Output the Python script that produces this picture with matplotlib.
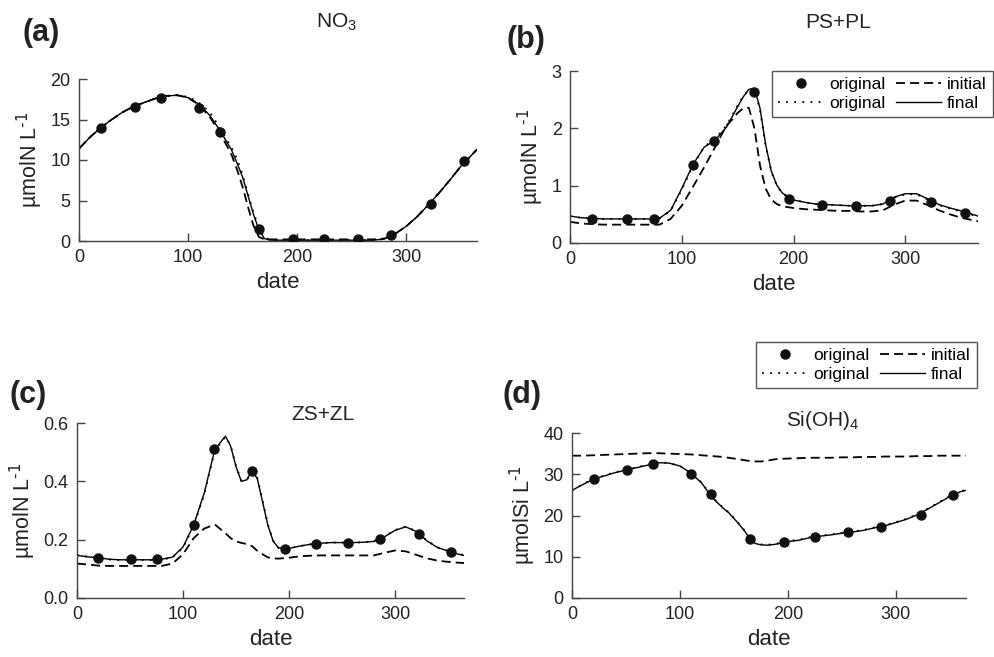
import matplotlib
matplotlib.use("Agg")
import matplotlib.pyplot as plt

plt.rcParams["font.family"] = ["Liberation Sans", "DejaVu Sans"]
plt.rcParams["mathtext.default"] = "regular"

# sampling dates (day of year)
obs_days = [20, 51, 75, 110, 129, 165, 196, 225, 256, 286, 323, 353]
model_days = [0, 10, 20, 30, 40, 50, 60, 70, 80, 90, 100, 110, 120, 130, 140,
              145, 150, 155, 160, 165, 170, 175, 180, 185, 190, 200, 210, 220,
              230, 240, 250, 260, 270, 280, 290, 300, 310, 320, 330, 340, 350,
              360, 365]

# (a) NO3
no3_obs = [14.0, 16.6, 17.7, 16.4, 13.5, 1.5, 0.2, 0.2, 0.2, 0.7, 4.6, 9.9]
no3_final = [11.4, 12.8, 14.0, 15.0, 15.9, 16.6, 17.1, 17.6, 17.9, 18.0, 17.7,
             16.9, 15.5, 13.5, 11.2, 9.6, 7.9, 5.6, 3.3, 1.4, 0.3, 0.12, 0.1,
             0.1, 0.1, 0.1, 0.1, 0.1, 0.1, 0.1, 0.1, 0.1, 0.1, 0.25, 0.9, 1.8,
             3.0, 4.4, 5.9, 7.5, 9.2, 10.6, 11.3]
no3_orig = [11.4, 12.8, 14.0, 15.0, 15.9, 16.6, 17.1, 17.6, 17.9, 18.0, 17.8,
            17.1, 15.9, 13.8, 11.5, 10.1, 8.2, 5.8, 3.5, 1.6, 0.5, 0.15, 0.1,
            0.1, 0.1, 0.1, 0.1, 0.1, 0.1, 0.1, 0.1, 0.1, 0.1, 0.25, 0.9, 1.8,
            3.0, 4.4, 5.9, 7.5, 9.2, 10.6, 11.3]
no3_initial = [11.4, 12.8, 14.0, 15.0, 15.9, 16.6, 17.1, 17.6, 17.9, 18.0,
               17.7, 16.8, 15.3, 13.2, 10.6, 8.8, 6.7, 4.2, 1.9, 0.5, 0.2, 0.2,
               0.2, 0.2, 0.2, 0.2, 0.2, 0.2, 0.2, 0.2, 0.2, 0.2, 0.2, 0.3, 0.9,
               1.8, 3.0, 4.4, 5.9, 7.5, 9.2, 10.6, 11.3]

# (b) PS+PL
ph_obs = [0.42, 0.42, 0.42, 1.36, 1.78, 2.64, 0.76, 0.67, 0.65, 0.74, 0.72, 0.53]
ph_final = [0.47, 0.44, 0.43, 0.42, 0.42, 0.42, 0.42, 0.42, 0.43, 0.57, 0.95,
            1.37, 1.67, 1.80, 2.02, 2.20, 2.38, 2.55, 2.68, 2.70, 2.35, 1.72,
            1.26, 1.01, 0.87, 0.75, 0.71, 0.68, 0.67, 0.66, 0.65, 0.65, 0.65,
            0.68, 0.80, 0.86, 0.86, 0.77, 0.67, 0.61, 0.56, 0.50, 0.47]
ph_orig = [0.47, 0.44, 0.43, 0.42, 0.42, 0.42, 0.42, 0.42, 0.43, 0.56, 0.93,
           1.35, 1.68, 1.82, 2.05, 2.22, 2.40, 2.56, 2.67, 2.68, 2.32, 1.70,
           1.25, 1.00, 0.86, 0.75, 0.71, 0.68, 0.67, 0.66, 0.65, 0.65, 0.65,
           0.68, 0.79, 0.85, 0.85, 0.76, 0.66, 0.60, 0.55, 0.49, 0.46]
ph_initial = [0.37, 0.34, 0.33, 0.32, 0.32, 0.32, 0.32, 0.32, 0.32, 0.42, 0.65,
              0.98, 1.32, 1.68, 2.05, 2.15, 2.27, 2.35, 2.36, 2.00, 1.35, 0.95,
              0.76, 0.68, 0.64, 0.61, 0.59, 0.58, 0.57, 0.56, 0.56, 0.55, 0.55,
              0.57, 0.67, 0.74, 0.74, 0.66, 0.57, 0.50, 0.44, 0.40, 0.38]

# (c) ZS+ZL
zoo_obs = [0.138, 0.133, 0.133, 0.251, 0.51, 0.434, 0.169, 0.185, 0.19, 0.203,
           0.218, 0.158]
zoo_final = [0.146, 0.141, 0.138, 0.133, 0.131, 0.131, 0.131, 0.131, 0.133,
             0.140, 0.175, 0.250, 0.360, 0.510, 0.555, 0.520, 0.450, 0.400,
             0.405, 0.435, 0.410, 0.330, 0.250, 0.195, 0.172, 0.170, 0.178,
             0.184, 0.188, 0.190, 0.190, 0.190, 0.191, 0.194, 0.210, 0.232,
             0.244, 0.228, 0.196, 0.173, 0.161, 0.150, 0.146]
zoo_orig = [0.148, 0.142, 0.137, 0.132, 0.130, 0.130, 0.130, 0.130, 0.132,
            0.139, 0.172, 0.246, 0.355, 0.505, 0.553, 0.522, 0.452, 0.402,
            0.404, 0.433, 0.412, 0.335, 0.252, 0.196, 0.172, 0.170, 0.178,
            0.184, 0.188, 0.190, 0.190, 0.190, 0.191, 0.195, 0.211, 0.233,
            0.245, 0.229, 0.197, 0.174, 0.161, 0.151, 0.147]
zoo_initial = [0.118, 0.115, 0.111, 0.110, 0.110, 0.110, 0.110, 0.110, 0.110,
               0.118, 0.150, 0.205, 0.238, 0.252, 0.222, 0.205, 0.194, 0.189,
               0.185, 0.178, 0.162, 0.150, 0.139, 0.136, 0.135, 0.138, 0.143,
               0.145, 0.146, 0.146, 0.146, 0.146, 0.146, 0.146, 0.155, 0.163,
               0.160, 0.148, 0.136, 0.128, 0.124, 0.121, 0.120]

# (d) Si(OH)4
si_obs = [28.8, 31.1, 32.5, 30.1, 25.2, 14.3, 13.6, 14.9, 15.9, 17.3, 20.2, 24.9]
si_final = [26.1, 27.5, 28.8, 29.6, 30.4, 31.0, 31.6, 32.2, 32.8, 32.7, 32.0,
            30.3, 27.9, 24.3, 21.8, 20.7, 19.3, 17.8, 16.2, 14.3, 13.2, 12.9,
            12.8, 12.9, 13.1, 13.7, 14.0, 14.6, 15.0, 15.3, 15.7, 16.0, 16.4,
            17.0, 17.5, 18.3, 19.1, 20.2, 21.6, 23.1, 24.6, 25.8, 26.1]
si_orig = [26.1, 27.6, 28.9, 29.7, 30.5, 31.1, 31.7, 32.3, 32.9, 32.7, 32.0,
           30.4, 28.0, 24.4, 21.9, 20.8, 19.4, 17.9, 16.3, 14.4, 13.3, 13.0,
           12.9, 13.0, 13.2, 13.8, 14.1, 14.7, 15.1, 15.4, 15.8, 16.1, 16.5,
           17.1, 17.6, 18.4, 19.2, 20.3, 21.7, 23.2, 24.7, 25.9, 26.2]
si_initial = [34.5, 34.5, 34.6, 34.7, 34.8, 34.9, 35.0, 35.1, 35.1, 35.0, 34.9,
              34.8, 34.6, 34.4, 34.2, 34.0, 33.8, 33.6, 33.4, 33.2, 33.1, 33.1,
              33.2, 33.5, 33.7, 33.8, 33.9, 34.0, 34.0, 34.0, 34.1, 34.1, 34.2,
              34.2, 34.3, 34.3, 34.3, 34.4, 34.4, 34.5, 34.5, 34.5, 34.5]

panels = [
    ("(a)", "NO$_3$", r"µmolN L$^{\text{-1}}$", no3_obs, no3_orig, no3_initial, no3_final,
     (0, 20), [0, 5, 10, 15, 20], "%d"),
    ("(b)", "PS+PL", r"µmolN L$^{\text{-1}}$", ph_obs, ph_orig, ph_initial, ph_final,
     (0, 3), [0, 1, 2, 3], "%d"),
    ("(c)", "ZS+ZL", r"µmolN L$^{\text{-1}}$", zoo_obs, zoo_orig, zoo_initial, zoo_final,
     (0, 0.6), [0.0, 0.2, 0.4, 0.6], "%.1f"),
    ("(d)", "Si(OH)$_4$", r"µmolSi L$^{\text{-1}}$", si_obs, si_orig, si_initial, si_final,
     (0, 40), [0, 10, 20, 30, 40], "%d"),
]

W, H = 995, 657
# axes boxes in pixels: left, top, right, bottom
boxes = [(79, 79, 477, 241), (570, 71, 978, 243), (77, 423, 464, 598), (572, 433, 966, 598)]
label_pos = [(41, 33), (526, 40), (28, 395), (522, 395)]
title_pos = [(336, 22), (838, 22), (323, 415), (823, 421)]
legend_pos = [None, (772, 71), None, (756, 342)]

fig = plt.figure(figsize=(W / 100, H / 100), dpi=100)
axcol = "#444444"

for i, (lab, title, ylab, obs, orig, init, final, ylim, yticks, fmt) in enumerate(panels):
    l, t, r, b = boxes[i]
    ax = fig.add_axes([l / W, 1 - b / H, (r - l) / W, (b - t) / H])
    ax.plot(model_days, final, color="black", lw=1.0, label="final")
    ax.plot(model_days, orig, color="black", lw=1.3, dashes=(1.0, 3.5), label="original")
    ax.plot(model_days, init, color="black", lw=1.3, dashes=(5.0, 2.8), label="initial")
    ax.plot(obs_days, obs, "o", color="#111111", ms=6.5, label="original", zorder=5)

    ax.set_xlim(0, 365)
    ax.set_ylim(*ylim)
    ax.set_xticks([0, 100, 200, 300])
    ax.set_yticks(yticks)
    ax.set_yticklabels([fmt % v for v in yticks])
    for side in ["top", "right"]:
        ax.spines[side].set_visible(False)
    for side in ["left", "bottom"]:
        ax.spines[side].set_color(axcol)
        ax.spines[side].set_linewidth(1.0)
    ax.tick_params(direction="in", length=6, width=1.0, color=axcol,
                   labelsize=13, labelcolor="#222222", pad=6)
    ax.set_xlabel("date", fontsize=16, color="#222222", labelpad=4)
    ax.set_ylabel(ylab, fontsize=15.5, color="#222222", labelpad=4)

    fig.text(label_pos[i][0] / W, 1 - label_pos[i][1] / H, lab, fontsize=22,
             fontweight="bold", ha="center", va="center", color="#222222")
    fig.text(title_pos[i][0] / W, 1 - title_pos[i][1] / H, title, fontsize=15,
             ha="center", va="center", color="#222222")

    if legend_pos[i] is not None:
        hs, ls = ax.get_legend_handles_labels()
        order = [3, 1, 2, 0]
        leg = fig.legend([hs[k] for k in order], [ls[k] for k in order],
                         loc="upper left", ncol=2, fontsize=12.5,
                         bbox_to_anchor=(legend_pos[i][0] / W, 1 - legend_pos[i][1] / H),
                         bbox_transform=fig.transFigure, numpoints=1,
                         handlelength=2.6, handletextpad=0.35, columnspacing=0.6,
                         labelspacing=0.2, borderpad=0.35, borderaxespad=0,
                         fancybox=False, framealpha=1, edgecolor="#555555")
        leg.get_frame().set_linewidth(1.0)

fig.savefig("out.png", dpi=100)
